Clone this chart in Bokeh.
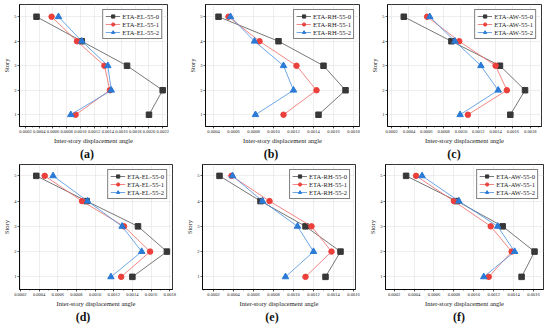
from bokeh.plotting import figure
from bokeh.models import (Range1d, SingleIntervalTicker, FixedTicker, NumeralTickFormatter, Div)
from bokeh.layouts import column, row
from bokeh.embed import file_html
from bokeh.resources import INLINE

stories = [1, 2, 3, 4, 5]

# (a) EL
a_names = ["ETA-EL-55-0", "ETA-EL-55-1", "ETA-EL-55-2"]
a_s0 = [0.00200, 0.00220, 0.00168, 0.00102, 0.00036]
a_s1 = [0.00093, 0.00143, 0.00135, 0.00095, 0.00058]
a_s2 = [0.00086, 0.00145, 0.00140, 0.00102, 0.00068]
# (b) RH
b_names = ["ETA-RH-55-0", "ETA-RH-55-1", "ETA-RH-55-2"]
b_s0 = [0.00145, 0.00172, 0.00150, 0.00105, 0.00045]
b_s1 = [0.00110, 0.00143, 0.00123, 0.00086, 0.00055]
b_s2 = [0.00082, 0.00120, 0.00110, 0.00081, 0.00057]
# (c) AW
c_names = ["ETA-AW-55-0", "ETA-AW-55-1", "ETA-AW-55-2"]
c_s0 = [0.00157, 0.00174, 0.00145, 0.00089, 0.00034]
c_s1 = [0.00108, 0.00153, 0.00140, 0.00098, 0.00061]
c_s2 = [0.00099, 0.00143, 0.00123, 0.00093, 0.00064]
# (d) EL
d_names = ["ETA-EL-55-0", "ETA-EL-55-1", "ETA-EL-55-2"]
d_s0 = [0.00140, 0.00177, 0.00146, 0.00091, 0.00037]
d_s1 = [0.00128, 0.00159, 0.00131, 0.00086, 0.00046]
d_s2 = [0.00117, 0.00150, 0.00129, 0.00092, 0.00055]
# (e) RH
e_names = ["ETA-RH-55-0", "ETA-RH-55-1", "ETA-RH-55-2"]
e_s0 = [0.00132, 0.00147, 0.00112, 0.00067, 0.00026]
e_s1 = [0.00112, 0.00138, 0.00118, 0.00076, 0.00038]
e_s2 = [0.00092, 0.00120, 0.00104, 0.00069, 0.00039]
# (f) AW
f_names = ["ETA-AW-55-0", "ETA-AW-55-1", "ETA-AW-55-2"]
f_s0 = [0.00148, 0.00161, 0.00129, 0.00083, 0.00032]
f_s1 = [0.00115, 0.00138, 0.00117, 0.00080, 0.00042]
f_s2 = [0.00110, 0.00141, 0.00124, 0.00085, 0.00048]

captions = ["(a)", "(b)", "(c)", "(d)", "(e)", "(f)"]
x_label = "Inter-story displacement angle"
y_label = "Story"

SERIF = "Liberation Serif"
COLORS = ["#383838", "#ea3f3a", "#2a7ad6"]
LINE_COLORS = ["#555555", "#ee6a66", "#4a90e0"]
MARKERS = ["square", "circle", "triangle"]


def panel(names, series, caption, xr, yr, w, borders, cap_x):
    left, right, top, bottom = borders
    p = figure(width=w, height=146, output_backend="svg", toolbar_location=None,
               x_range=Range1d(*xr), y_range=Range1d(*yr),
               min_border_left=left, min_border_right=right,
               min_border_top=top, min_border_bottom=bottom)
    p.background_fill_color = "white"
    p.border_fill_color = "white"
    p.outline_line_color = "black"
    p.outline_line_width = 0.8
    for i, (nm, s) in enumerate(zip(names, series)):
        p.line(s, stories, line_color=LINE_COLORS[i], line_width=0.8, legend_label=nm)
        p.scatter(s, stories, marker=MARKERS[i], size=5.5 if i != 2 else 6.5,
                  fill_color=COLORS[i], line_color=COLORS[i], legend_label=nm)
    p.xaxis.ticker = SingleIntervalTicker(interval=0.0002, num_minor_ticks=2)
    p.xaxis.formatter = NumeralTickFormatter(format="0.0000")
    p.yaxis.ticker = FixedTicker(ticks=stories)
    for ax in (p.xaxis, p.yaxis):
        ax.axis_line_color = "black"
        ax.axis_line_width = 0.8
        ax.major_tick_line_color = "black"
        ax.major_tick_line_width = 0.6
        ax.minor_tick_line_color = "black"
        ax.minor_tick_line_width = 0.5
        ax.major_tick_out = 2
        ax.major_tick_in = 0
        ax.minor_tick_out = 1
        ax.minor_tick_in = 0
        ax.major_label_text_font = SERIF
        ax.major_label_text_font_size = "4.5px"
        ax.major_label_text_color = "#222222"
        ax.axis_label_text_font = SERIF
        ax.axis_label_text_font_size = "6.5px"
        ax.axis_label_text_font_style = "normal"
        ax.axis_label_text_color = "#222222"
        ax.major_label_standoff = 1
        ax.axis_label_standoff = 1
    p.yaxis.minor_tick_line_color = None
    p.xaxis.axis_label = x_label
    p.yaxis.axis_label = y_label
    p.grid.grid_line_color = "#e2e2e2"
    p.grid.grid_line_width = 0.6
    p.xgrid.ticker = SingleIntervalTicker(interval=0.0002)
    p.ygrid.ticker = FixedTicker(ticks=stories)
    lg = p.legend[0]
    lg.location = "top_right"
    lg.margin = 5
    lg.padding = 2
    lg.spacing = 0
    lg.label_text_font = SERIF
    lg.label_text_font_size = "6.6px"
    lg.label_text_color = "#222222"
    lg.label_height = 8
    lg.label_standoff = 2
    lg.glyph_height = 8
    lg.glyph_width = 15
    lg.border_line_color = "black"
    lg.border_line_width = 0.6
    lg.background_fill_alpha = 1
    cap = Div(text=(f'<div style="width:{2 * cap_x}px;text-align:center;'
                    f'font-family:\'{SERIF}\';font-size:12px;font-weight:bold;'
                    f'line-height:17px;color:#111111">{caption}</div>'),
              width=w, height=17, margin=(0, 0, 0, 0))
    return column(p, cap, spacing=0, margin=(0, 0, 0, 0))


pa = panel(a_names, [a_s0, a_s1, a_s2], captions[0], (0.000112, 0.00227), (0.52, 5.5),
           183, (19, 16, 4, 17), 87)
pb = panel(b_names, [b_s0, b_s1, b_s2], captions[1], (0.00032, 0.00186), (0.52, 5.5),
           183, (22, 7, 4, 17), 88)
pc = panel(c_names, [c_s0, c_s1, c_s2], captions[2], (0.000152, 0.00193), (0.52, 5.5),
           184, (21, 9, 4, 17), 88)
pd = panel(d_names, [d_s0, d_s1, d_s2], captions[3], (0.00019, 0.00183), (0.5, 5.45),
           183, (16, 11, 1, 18), 83)
pe = panel(e_names, [e_s0, e_s1, e_s2], captions[4], (0.00009, 0.00162), (0.5, 5.45),
           183, (17, 11, 1, 18), 89)
pf = panel(f_names, [f_s0, f_s1, f_s2], captions[5], (0.000113, 0.00170), (0.5, 5.45),
           184, (13, 7, 1, 18), 93)

p = column(row(pa, pb, pc, spacing=0), row(pd, pe, pf, spacing=0), spacing=0,
           styles={"position": "absolute", "left": "0px", "top": "0px"})

open("out.html", "w").write(file_html(p, INLINE))
